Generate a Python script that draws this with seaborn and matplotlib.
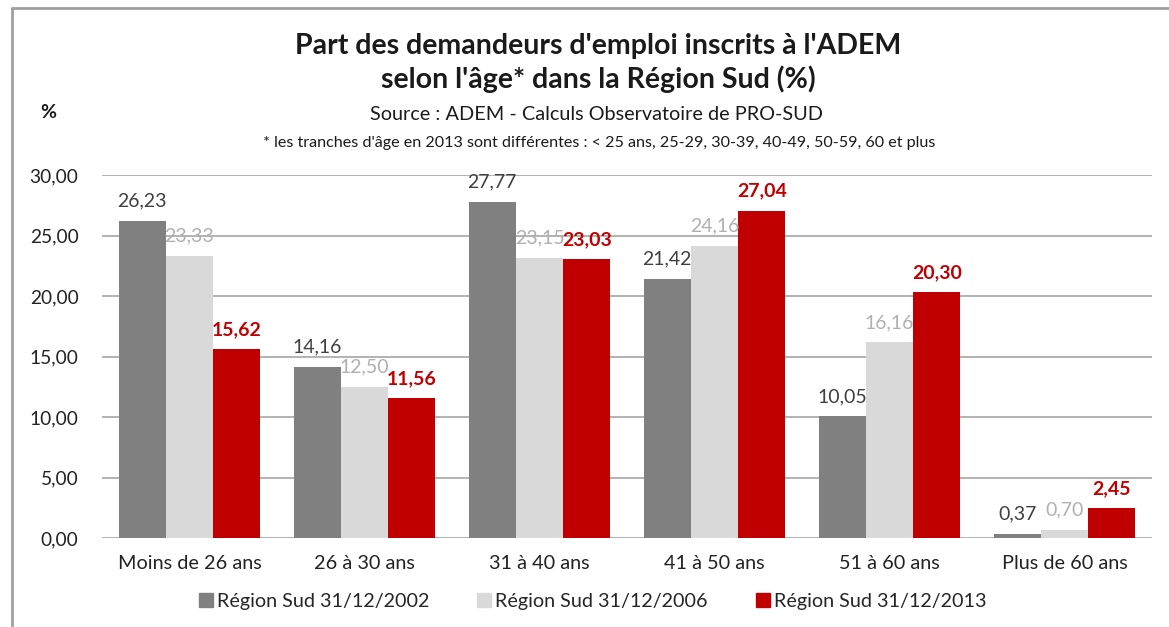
import matplotlib
matplotlib.use("Agg")
import matplotlib.pyplot as plt
import seaborn as sns
import pandas as pd
from matplotlib.lines import Line2D
from matplotlib.ticker import FuncFormatter

categories = ["Moins de 26 ans", "26 à 30 ans", "31 à 40 ans", "41 à 50 ans", "51 à 60 ans", "Plus de 60 ans"]
series_names = ["Région Sud 31/12/2002", "Région Sud 31/12/2006", "Région Sud 31/12/2013"]
values_2002 = [26.23, 14.16, 27.77, 21.42, 10.05, 0.37]
values_2006 = [23.33, 12.50, 23.15, 24.16, 16.16, 0.70]
values_2013 = [15.62, 11.56, 23.03, 27.04, 20.30, 2.45]
yticks = [0, 5, 10, 15, 20, 25, 30]

bar_colors = ["#808080", "#d9d9d9", "#c00000"]
label_colors = ["#404040", "#b0b0b0", "#c00000"]
label_weights = ["normal", "normal", "bold"]

rows = []
for name, vals in zip(series_names, [values_2002, values_2006, values_2013]):
    for c, v in zip(categories, vals):
        rows.append({"cat": c, "serie": name, "val": v})
df = pd.DataFrame(rows)

sns.set_theme(style="white")
plt.rcParams["font.family"] = ["Lato", "DejaVu Sans"]

W, H = 1169, 627
fig = plt.figure(figsize=(W / 100, H / 100), dpi=100)
ax = fig.add_axes([102 / W, 1 - 538 / H, (1152 - 102) / W, (538 - 175) / H])

sns.barplot(data=df, x="cat", y="val", hue="serie", order=categories,
            hue_order=series_names, palette=bar_colors, width=0.81,
            saturation=1, ax=ax, legend=False, zorder=3, linewidth=0)

ax.set_ylim(0, 30)
ax.set_xlim(-0.5, len(categories) - 0.5)
ax.set_yticks(yticks)
ax.yaxis.set_major_formatter(FuncFormatter(lambda v, p: f"{v:.2f}".replace(".", ",")))
ax.grid(axis="y", color="#a6a6a6", linewidth=1.2, zorder=0)
ax.grid(axis="x", visible=False)
for s in ax.spines.values():
    s.set_visible(False)
ax.tick_params(axis="y", length=0, pad=17, labelsize=13.8, labelcolor="#222222")
ax.tick_params(axis="x", length=0, pad=12, labelsize=14.3, labelcolor="#222222")
ax.set_xlabel("")
ax.set_ylabel("")

for i, cont in enumerate(ax.containers):
    labels = [f"{v:.2f}".replace(".", ",") for v in cont.datavalues]
    ax.bar_label(cont, labels=labels, padding=8, fontsize=14,
                 color=label_colors[i], fontweight=label_weights[i])

# Title & texts
fig.text(598 / W, 1 - 46 / H, "Part des demandeurs d'emploi inscrits à l'ADEM",
         ha="center", va="center", fontsize=20.5, fontweight="bold", color="#1a1a1a")
fig.text(598 / W, 1 - 79 / H, "selon l'âge* dans la Région Sud (%)",
         ha="center", va="center", fontsize=20.5, fontweight="bold", color="#1a1a1a")
fig.text(597 / W, 1 - 114 / H, "Source : ADEM - Calculs Observatoire de PRO-SUD",
         ha="center", va="center", fontsize=14.3, color="#1a1a1a")
fig.text(599 / W, 1 - 143 / H,
         "* les tranches d'âge en 2013 sont différentes : < 25 ans, 25-29, 30-39, 40-49, 50-59, 60 et plus",
         ha="center", va="center", fontsize=11.6, color="#1a1a1a")
fig.text(48 / W, 1 - 112 / H, "%", ha="center", va="center", fontsize=14,
         fontweight="bold", color="#1a1a1a")

# Legend
handles = [Line2D([0], [0], marker="s", linestyle="none", markersize=10,
                  markerfacecolor=c, markeredgecolor=c) for c in bar_colors]
fig.legend(handles, series_names, loc="center", bbox_to_anchor=(591 / W, 1 - 601 / H),
           ncol=3, frameon=False, fontsize=14.2, handletextpad=0.05,
           columnspacing=2.3, handlelength=1.0)

# Frame border (top and left)
fig.add_artist(Line2D([12 / W, 1], [1 - 8 / H, 1 - 8 / H], color="#a0a0a0", linewidth=2,
                      transform=fig.transFigure))
fig.add_artist(Line2D([12 / W, 12 / W], [0, 1 - 8 / H], color="#a0a0a0", linewidth=2,
                      transform=fig.transFigure))

fig.savefig("out.png", dpi=100)
